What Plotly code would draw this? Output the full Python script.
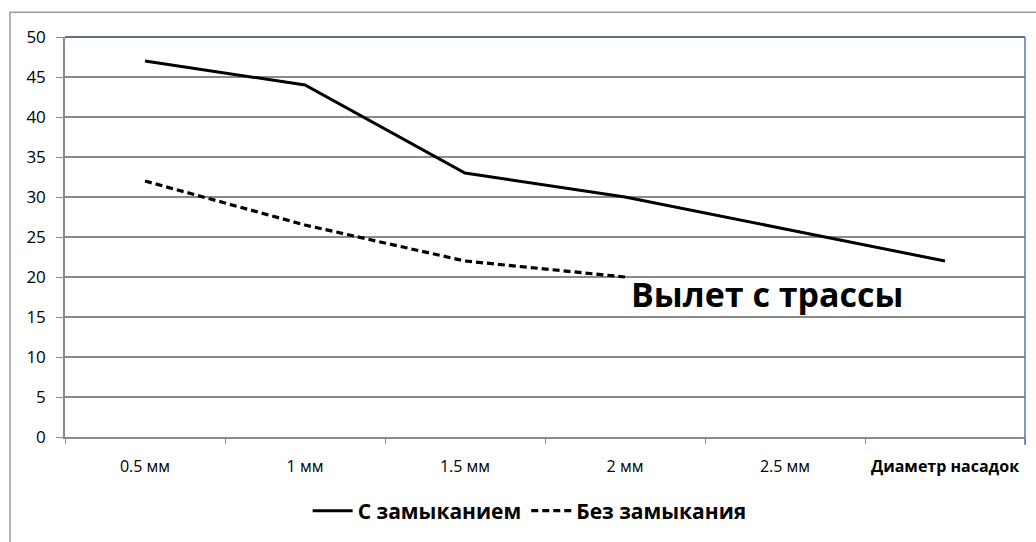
import plotly.graph_objects as go

# Nozzle diameters (last slot carries the axis caption)
categories = ["0.5 мм", "1 мм", "1.5 мм", "2 мм", "2.5 мм", "Диаметр насадок"]
with_closure = [47, 44, 33, 30, 26, 22]
without_closure = [32, 26.5, 22, 20]
y_ticks = list(range(0, 51, 5))

FONT = "Open Sans, DejaVu Sans, sans-serif"
INK = "#000000"
GRID = "#8a8a8a"

ticktext = [c for c in categories[:-1]] + [
    "<span style='font-size:16px'><b>" + categories[-1] + "</b></span>"
]

fig = go.Figure()
fig.add_trace(go.Scatter(
    x=categories, y=with_closure, mode="lines", name="С замыканием",
    line=dict(color=INK, width=3),
))
fig.add_trace(go.Scatter(
    x=categories[:len(without_closure)], y=without_closure, mode="lines",
    name="Без замыкания",
    line=dict(color=INK, width=3.2, dash="7px,4px"),
))

fig.update_layout(
    width=1036, height=542,
    margin=dict(l=65, r=11, t=37, b=99),
    paper_bgcolor="white", plot_bgcolor="white",
    font=dict(family=FONT, color=INK, size=13),
    showlegend=True,
    legend=dict(
        orientation="h", x=0.484, xanchor="center", y=-0.185, yanchor="middle",
        font=dict(family=FONT, size=21, color=INK, weight="bold"),
        itemwidth=40, tracegroupgap=0,
    ),
    xaxis=dict(
        type="category", categoryorder="array", categoryarray=categories,
        tickvals=categories, ticktext=ticktext,
        range=[-0.5, len(categories) - 0.5],
        tickson="boundaries", ticks="outside", ticklen=5, tickcolor=GRID,
        showline=True, linecolor=GRID, linewidth=1.5,
        showgrid=False, zeroline=False, automargin=False,
        tickangle=0,
        tickfont=dict(family=FONT, size=16, color=INK),
        ticklabelstandoff=14,
    ),
    yaxis=dict(
        range=[0, 50], tickvals=y_ticks,
        ticks="outside", ticklen=7, tickcolor=GRID,
        showline=True, linecolor=GRID, linewidth=1.5,
        showgrid=True, gridcolor=GRID, gridwidth=1.5,
        zeroline=False, automargin=False,
        tickfont=dict(family=FONT, size=17, color=INK),
        ticklabelstandoff=7,
    ),
    annotations=[
        dict(
            text="<b>Вылет с трассы</b>", xref="paper", yref="paper",
            x=0.731, y=0.357, xanchor="center", yanchor="middle",
            showarrow=False, font=dict(family=FONT, size=34, color=INK),
        ),
    ],
    shapes=[
        # outer chart frame
        dict(type="rect", xref="paper", yref="paper",
             x0=-0.0573, y0=-0.35, x1=1.05, y1=1.0616,
             line=dict(color="#9a9a9a", width=1.5), layer="below"),
        # top and right edge of the plot area
        dict(type="line", xref="paper", yref="paper", x0=0, x1=1, y0=1, y1=1,
             line=dict(color="#2b3f66", width=1.5)),
        dict(type="line", xref="paper", yref="paper", x0=1, x1=1, y0=-0.02, y1=1,
             line=dict(color="#5a78a8", width=1.5)),
    ],
)

fig.write_html("out.html")
